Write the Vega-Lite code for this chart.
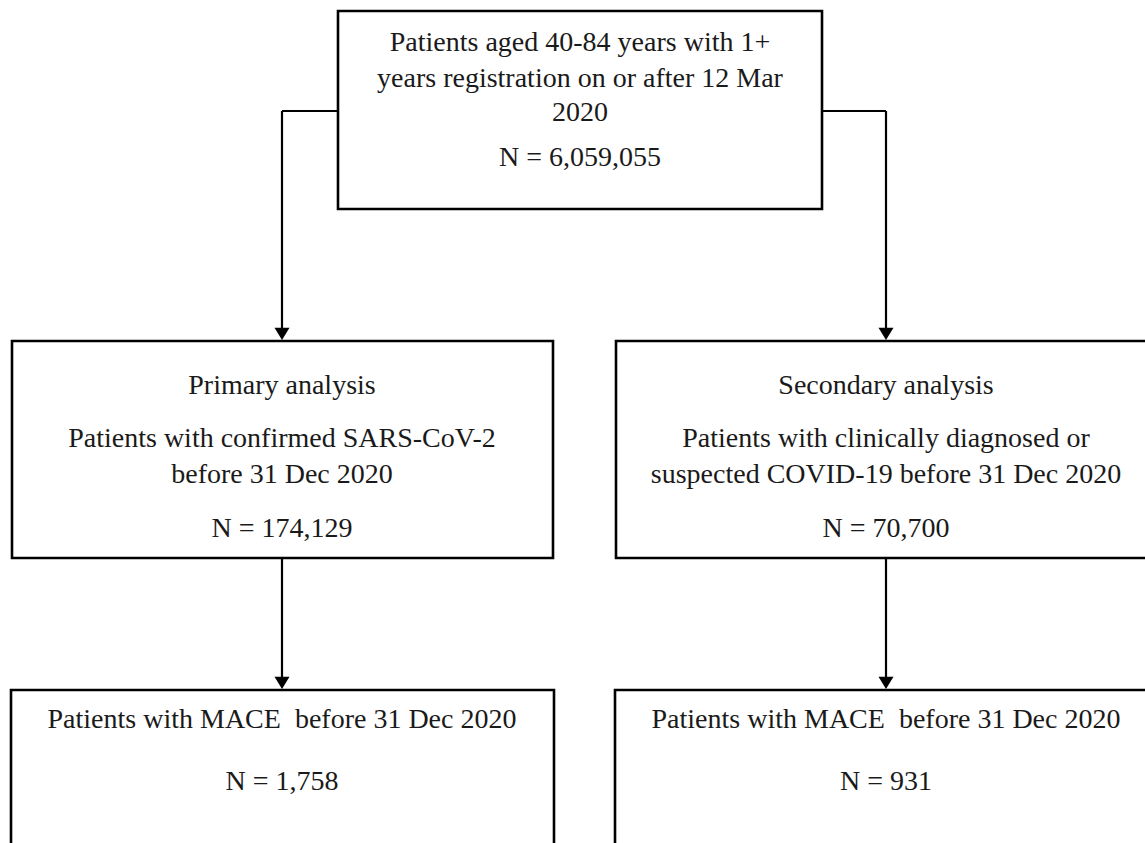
{
  "$schema": "https://vega.github.io/schema/vega-lite/v6.json",
  "width": 1145,
  "height": 843,
  "padding": 0,
  "autosize": "none",
  "background": "white",
  "config": {"view": {"stroke": null}},
  "datasets": {
    "boxes": [
      {"box": "Cohort", "x0": 338, "x1": 822, "y0": 11, "y1": 209},
      {"box": "Primary", "x0": 12, "x1": 553, "y0": 341, "y1": 558},
      {"box": "Secondary", "x0": 616, "x1": 1160, "y0": 341, "y1": 558},
      {"box": "Primary MACE", "x0": 11, "x1": 554, "y0": 690, "y1": 860},
      {"box": "Secondary MACE", "x0": 615, "x1": 1160, "y0": 690, "y1": 860}
    ],
    "links": [
      {"x0": 282, "y0": 111, "x1": 338, "y1": 111},
      {"x0": 282, "y0": 111, "x1": 282, "y1": 334},
      {"x0": 822, "y0": 111, "x1": 886, "y1": 111},
      {"x0": 886, "y0": 111, "x1": 886, "y1": 334},
      {"x0": 282, "y0": 558, "x1": 282, "y1": 683},
      {"x0": 886, "y0": 558, "x1": 886, "y1": 683}
    ],
    "arrows": [
      {"x": 282, "y": 340},
      {"x": 886, "y": 340},
      {"x": 282, "y": 689},
      {"x": 886, "y": 689}
    ],
    "labels": [
      {"x": 580, "y": 51, "text": "Patients aged 40-84 years with 1+"},
      {"x": 580, "y": 87, "text": "years registration on or after 12 Mar"},
      {"x": 580, "y": 121, "text": "2020"},
      {"x": 580, "y": 166, "text": "N = 6,059,055"},
      {"x": 282, "y": 394, "text": "Primary analysis"},
      {"x": 282, "y": 447, "text": "Patients with confirmed SARS-CoV-2"},
      {"x": 282, "y": 483, "text": "before 31 Dec 2020"},
      {"x": 282, "y": 537, "text": "N = 174,129"},
      {"x": 886, "y": 394, "text": "Secondary analysis"},
      {"x": 886, "y": 447, "text": "Patients with clinically diagnosed or"},
      {"x": 886, "y": 483, "text": "suspected COVID-19 before 31 Dec 2020"},
      {"x": 886, "y": 537, "text": "N = 70,700"},
      {"x": 282, "y": 728, "text": "Patients with MACE\u00a0 before 31 Dec 2020"},
      {"x": 282, "y": 790, "text": "N = 1,758"},
      {"x": 886, "y": 728, "text": "Patients with MACE\u00a0 before 31 Dec 2020"},
      {"x": 886, "y": 790, "text": "N = 931"}
    ]
  },
  "layer": [
    {
      "data": {"name": "boxes"},
      "mark": {"type": "rect", "fill": "white", "stroke": "black", "strokeWidth": 2.6, "clip": true},
      "encoding": {
        "x": {"field": "x0", "type": "quantitative", "scale": {"domain": [0, 1145], "nice": false, "zero": false}, "axis": null},
        "x2": {"field": "x1"},
        "y": {"field": "y0", "type": "quantitative", "scale": {"domain": [0, 843], "nice": false, "zero": false, "reverse": true}, "axis": null},
        "y2": {"field": "y1"}
      }
    },
    {
      "data": {"name": "links"},
      "mark": {"type": "rule", "stroke": "black", "strokeWidth": 2.2},
      "encoding": {
        "x": {"field": "x0", "type": "quantitative"},
        "x2": {"field": "x1"},
        "y": {"field": "y0", "type": "quantitative"},
        "y2": {"field": "y1"}
      }
    },
    {
      "data": {"name": "arrows"},
      "mark": {"type": "point", "shape": "M-1,-1.65L1,-1.65L0,0Z", "filled": true, "color": "black", "opacity": 1, "size": 225, "strokeWidth": 0},
      "encoding": {
        "x": {"field": "x", "type": "quantitative"},
        "y": {"field": "y", "type": "quantitative"}
      }
    },
    {
      "data": {"name": "labels"},
      "mark": {"type": "text", "font": "Liberation Serif", "fontSize": 28, "color": "#1a1a1a", "align": "center", "baseline": "alphabetic"},
      "encoding": {
        "x": {"field": "x", "type": "quantitative"},
        "y": {"field": "y", "type": "quantitative"},
        "text": {"field": "text"}
      }
    }
  ]
}
